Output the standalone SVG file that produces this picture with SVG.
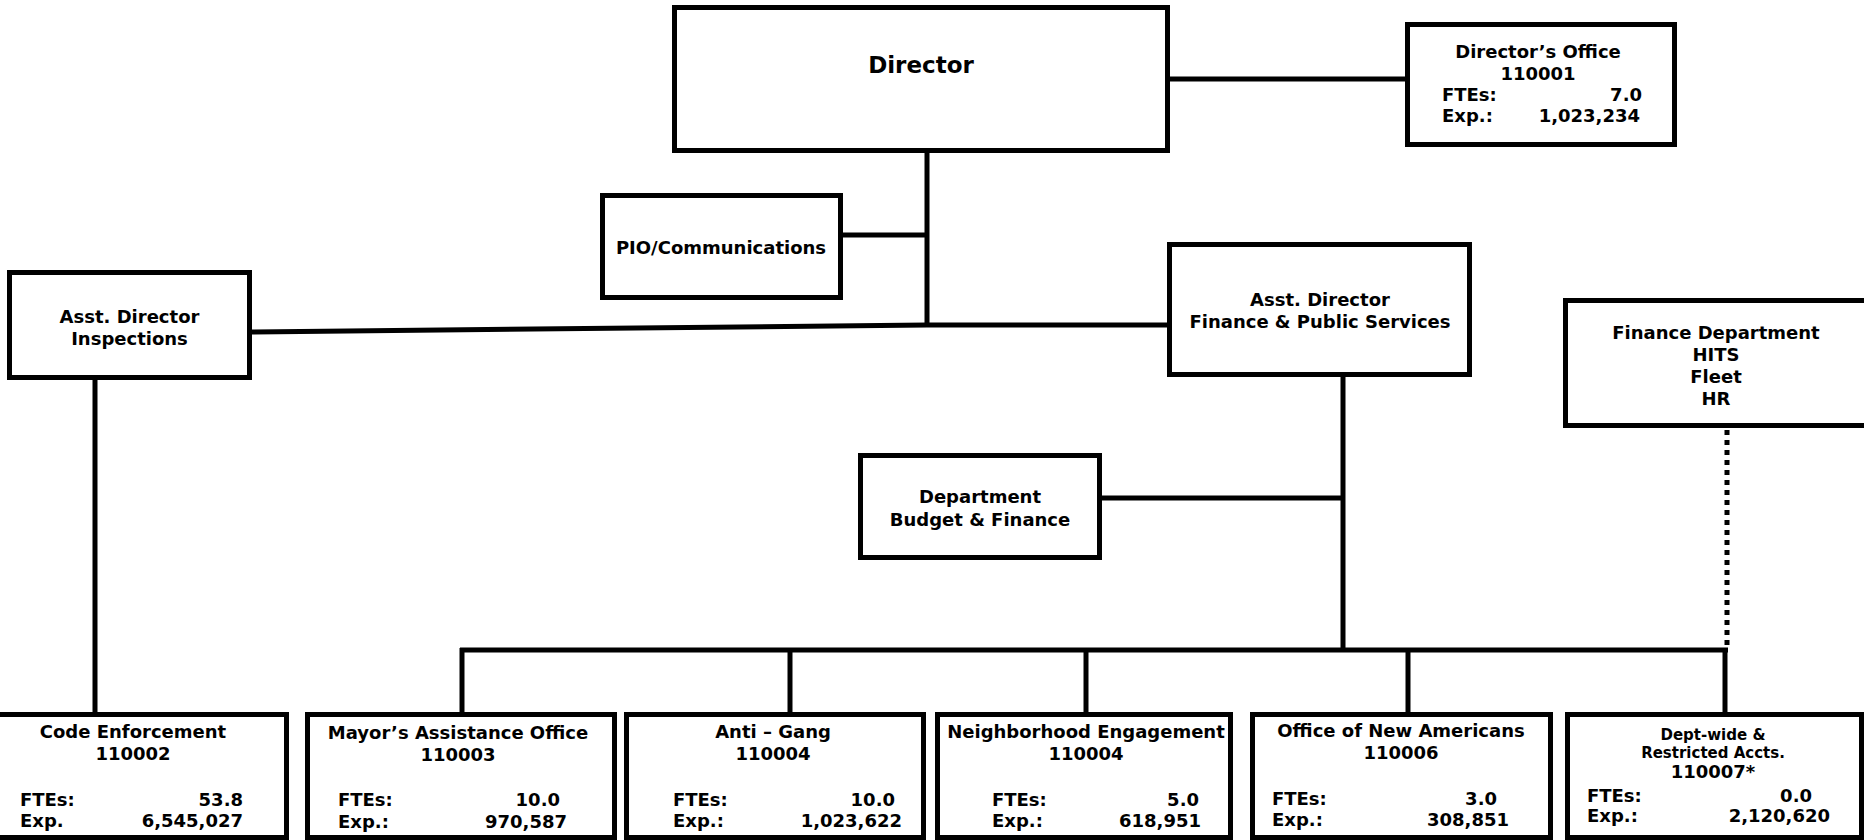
<svg xmlns="http://www.w3.org/2000/svg" width="1864" height="840" viewBox="0 0 1864 840">
<style>
.box{fill:#fff;stroke:#000;stroke-width:5}
.t{font-family:"DejaVu Sans",Verdana,sans-serif;font-weight:bold;font-size:18px;fill:#000}
.c{text-anchor:middle}
.r{text-anchor:end}
.s{font-size:15px}
.big{font-size:23px}
.conn line,.conn polyline{stroke:#000;stroke-width:5;fill:none}
.conn .dot{stroke-dasharray:5 5}
</style>
<rect width="1864" height="840" fill="#fff"/>
<g id="connectors" class="conn">
<line x1="1170" y1="79" x2="1405" y2="79"/>
<line x1="927" y1="153" x2="927" y2="327"/>
<line x1="843" y1="235" x2="927" y2="235"/>
<line x1="252" y1="332" x2="927" y2="325"/>
<line x1="927" y1="325" x2="1167" y2="325"/>
<line x1="95" y1="380" x2="95" y2="712"/>
<line x1="1343" y1="377" x2="1343" y2="652"/>
<line x1="1102" y1="498" x2="1343" y2="498"/>
<line x1="460" y1="650" x2="1728" y2="650"/>
<line x1="462" y1="648" x2="462" y2="712"/>
<line x1="790" y1="650" x2="790" y2="712"/>
<line x1="1086" y1="650" x2="1086" y2="712"/>
<line x1="1408" y1="650" x2="1408" y2="712"/>
<line x1="1725" y1="650" x2="1725" y2="712"/>
<line class="dot" x1="1727" y1="430" x2="1727" y2="650"/>
</g>
<g id="director">
<rect class="box" x="674.5" y="7.5" width="493" height="143"/>
<text class="t c big" x="921" y="73">Director</text>
</g>
<g id="directors-office">
<rect class="box" x="1407.5" y="24.5" width="267" height="120"/>
<text class="t c" x="1538" y="58">Director’s Office</text>
<text class="t c" x="1538" y="80">110001</text>
<text class="t" x="1442" y="101">FTEs:</text>
<text class="t r" x="1642" y="101">7.0</text>
<text class="t" x="1442" y="122">Exp.:</text>
<text class="t r" x="1640" y="122">1,023,234</text>
</g>
<g id="pio">
<rect class="box" x="602.5" y="195.5" width="238" height="102"/>
<text class="t c" x="721" y="254" font-size="19">PIO/Communications</text>
</g>
<g id="asst-director-inspections">
<rect class="box" x="9.5" y="272.5" width="240" height="105"/>
<text class="t c" x="129.5" y="323">Asst. Director</text>
<text class="t c" x="129.5" y="345">Inspections</text>
</g>
<g id="asst-director-finance">
<rect class="box" x="1169.5" y="244.5" width="300" height="130"/>
<text class="t c" x="1320" y="306">Asst. Director</text>
<text class="t c" x="1320" y="328">Finance &amp; Public Services</text>
</g>
<g id="finance-department">
<rect class="box" x="1565.5" y="300.5" width="301" height="125"/>
<text class="t c" x="1716" y="339">Finance Department</text>
<text class="t c" x="1716" y="361">HITS</text>
<text class="t c" x="1716" y="383">Fleet</text>
<text class="t c" x="1716" y="405">HR</text>
</g>
<g id="dept-budget">
<rect class="box" x="860.5" y="455.5" width="239" height="102"/>
<text class="t c" x="980" y="503">Department</text>
<text class="t c" x="980" y="526">Budget &amp; Finance</text>
</g>
<g id="code-enforcement">
<rect class="box" x="-20.5" y="714.5" width="307" height="123"/>
<text class="t c" x="133" y="738">Code Enforcement</text>
<text class="t c" x="133" y="760">110002</text>
<text class="t" x="20" y="806">FTEs:</text>
<text class="t r" x="243" y="806">53.8</text>
<text class="t" x="20" y="827">Exp.</text>
<text class="t r" x="243" y="827">6,545,027</text>
</g>
<g id="mayors-assistance">
<rect class="box" x="307.5" y="714.5" width="307" height="123"/>
<text class="t c" x="458" y="739">Mayor’s Assistance Office</text>
<text class="t c" x="458" y="761">110003</text>
<text class="t" x="338" y="806">FTEs:</text>
<text class="t r" x="560" y="806">10.0</text>
<text class="t" x="338" y="828">Exp.:</text>
<text class="t r" x="567" y="828">970,587</text>
</g>
<g id="anti-gang">
<rect class="box" x="626.5" y="714.5" width="297" height="123"/>
<text class="t c" x="773" y="738">Anti – Gang</text>
<text class="t c" x="773" y="760">110004</text>
<text class="t" x="673" y="806">FTEs:</text>
<text class="t r" x="895" y="806">10.0</text>
<text class="t" x="673" y="827">Exp.:</text>
<text class="t r" x="902" y="827">1,023,622</text>
</g>
<g id="neighborhood">
<rect class="box" x="937.5" y="714.5" width="293" height="123"/>
<text class="t c" x="1086" y="738">Neighborhood Engagement</text>
<text class="t c" x="1086" y="760">110004</text>
<text class="t" x="992" y="806">FTEs:</text>
<text class="t r" x="1199" y="806">5.0</text>
<text class="t" x="992" y="827">Exp.:</text>
<text class="t r" x="1201" y="827">618,951</text>
</g>
<g id="new-americans">
<rect class="box" x="1252.5" y="714.5" width="298" height="123"/>
<text class="t c" x="1401" y="737">Office of New Americans</text>
<text class="t c" x="1401" y="759">110006</text>
<text class="t" x="1272" y="805">FTEs:</text>
<text class="t r" x="1497" y="805">3.0</text>
<text class="t" x="1272" y="826">Exp.:</text>
<text class="t r" x="1509" y="826">308,851</text>
</g>
<g id="dept-wide">
<rect class="box" x="1567.5" y="714.5" width="294" height="123"/>
<text class="t c s" x="1713" y="740">Dept-wide &amp;</text>
<text class="t c s" x="1713" y="758">Restricted Accts.</text>
<text class="t c" x="1713" y="778">110007*</text>
<text class="t" x="1587" y="802">FTEs:</text>
<text class="t r" x="1812" y="802">0.0</text>
<text class="t" x="1587" y="822">Exp.:</text>
<text class="t r" x="1830" y="822">2,120,620</text>
</g>
</svg>
